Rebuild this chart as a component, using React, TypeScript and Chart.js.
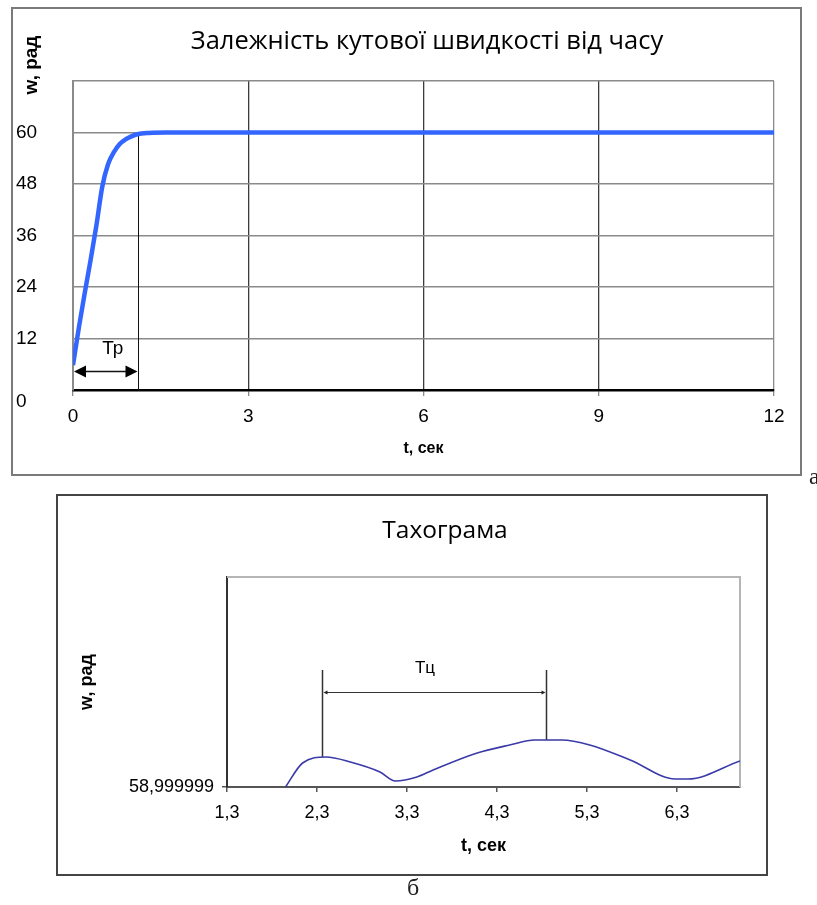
import React, { useEffect, useRef } from 'react';
import { Chart, registerables } from 'chart.js';

Chart.register(...registerables);

// ---------- Chart "а": angular speed vs time ----------
const speedTitle = 'Залежність кутової швидкості від часу';
const speedAxisX = 't, сек';
const speedAxisY = 'w, рад';
const speedTime = [0, 0.1, 0.2, 0.3, 0.4, 0.5, 0.6, 0.7, 0.8, 0.9, 1.0, 1.1, 1.3, 1.6, 2, 3, 4, 5, 6, 7, 8, 9, 10, 11, 12];
const speedValue = [5.8, 14.5, 22.5, 30.2, 38.3, 47.3, 52.6, 55.4, 57.3, 58.4, 59.1, 59.6, 59.9, 60, 60, 60, 60, 60, 60, 60, 60, 60, 60, 60, 60];
const speedTimeTicks = [0, 3, 6, 9, 12];
const speedValueTicks = [0, 12, 24, 36, 48, 60, 72];
const tpLabel = 'Тр';
const tpTime = 1.11;
const tpTopValue = 60;
const tpArrowValue = 4.4;
const tpLabelTime = 0.68;
const tpLabelValue = 8.4;

// ---------- Chart "б": tachogram ----------
const tachoTitle = 'Тахограма';
const tachoAxisX = 't, сек';
const tachoAxisY = 'w, рад';
const tachoTime = [1.95, 2.14, 2.4, 2.67, 3.0, 3.17, 3.41, 3.59, 4.08, 4.44, 4.72, 5.02, 5.33, 5.78, 6.28, 6.42, 7.0];
const tachoValue = [
  58.999999, 58.99999924, 58.9999993, 58.99999925, 58.99999915, 58.99999906, 58.9999991, 58.99999917,
  58.99999934, 58.99999942, 58.99999947, 58.99999947, 58.99999942, 58.99999927, 58.99999908, 58.99999908, 58.99999926,
];
const tachoTimeTicks = [1.3, 2.3, 3.3, 4.3, 5.3, 6.3];
const tachoMin = 58.999999;
const tachoMax = 59.0000011;
const tcLabel = 'Тц';
const tcStart = 2.35;
const tcEnd = 4.84;
const tcTopValue = 59.00000017;
const tcArrowValue = 58.99999995;
const tcLabelTime = 3.5;
const tcLabelValue = 59.00000014;
const tcStartBase = 58.9999993;
const tcEndBase = 58.99999947;

const SANS = '"Liberation Sans", Arial, sans-serif';
const TITLE_FONT = '"Open Sans", "Noto Sans", sans-serif';
const SERIF = '"Liberation Serif", "Times New Roman", serif';

function arrowHead(ctx: CanvasRenderingContext2D, x: number, y: number, dir: number, len: number, half: number) {
  ctx.beginPath();
  ctx.moveTo(x, y);
  ctx.lineTo(x - dir * len, y - half);
  ctx.lineTo(x - dir * len, y + half);
  ctx.closePath();
  ctx.fill();
}

const speedDecor = {
  id: 'speedDecor',
  beforeDatasetsDraw(chart: any) {
    const { ctx, scales } = chart;
    const x = scales.x;
    const y = scales.y;
    const xp = Math.round(x.getPixelForValue(tpTime)) + 0.5;
    ctx.save();
    ctx.strokeStyle = '#111';
    ctx.lineWidth = 1;
    ctx.beginPath();
    ctx.moveTo(xp, y.getPixelForValue(tpTopValue));
    ctx.lineTo(xp, y.getPixelForValue(0));
    ctx.stroke();
    const ay = Math.round(y.getPixelForValue(tpArrowValue)) + 0.5;
    const x0 = x.getPixelForValue(0) + 1;
    const x1 = xp - 1;
    ctx.lineWidth = 1.5;
    ctx.beginPath();
    ctx.moveTo(x0 + 8, ay);
    ctx.lineTo(x1 - 8, ay);
    ctx.stroke();
    ctx.fillStyle = '#000';
    arrowHead(ctx, x0, ay, -1, 12, 6);
    arrowHead(ctx, x1, ay, 1, 12, 6);
    ctx.restore();
  },
  afterDraw(chart: any) {
    const { ctx, scales } = chart;
    const x = scales.x;
    const y = scales.y;
    ctx.save();
    ctx.strokeStyle = '#7a7a7a';
    ctx.lineWidth = 2;
    ctx.strokeRect(12, 8, 789, 467);
    ctx.fillStyle = '#000';
    ctx.font = '25.5px ' + TITLE_FONT;
    ctx.textAlign = 'center';
    ctx.textBaseline = 'alphabetic';
    ctx.fillText(speedTitle, 427, 49);
    ctx.save();
    ctx.translate(37, 65);
    ctx.rotate(-Math.PI / 2);
    ctx.font = 'bold 19px ' + SANS;
    ctx.fillText(speedAxisY, 0, 0);
    ctx.restore();
    ctx.font = '19px ' + SANS;
    ctx.fillText(tpLabel, x.getPixelForValue(tpLabelTime), y.getPixelForValue(tpLabelValue));
    ctx.textAlign = 'left';
    ctx.font = '24px ' + SERIF;
    ctx.fillStyle = '#222';
    ctx.fillText('а', 809, 484);
    ctx.restore();
  },
};

const tachoDecor = {
  id: 'tachoDecor',
  beforeDatasetsDraw(chart: any) {
    const { ctx, scales, chartArea } = chart;
    const x = scales.x;
    const y = scales.y;
    ctx.save();
    ctx.strokeStyle = '#b5b5b5';
    ctx.lineWidth = 2;
    ctx.beginPath();
    ctx.moveTo(chartArea.left, chartArea.top);
    ctx.lineTo(chartArea.right, chartArea.top);
    ctx.lineTo(chartArea.right, chartArea.bottom);
    ctx.stroke();
    const xs = Math.round(x.getPixelForValue(tcStart)) + 0.5;
    const xe = Math.round(x.getPixelForValue(tcEnd)) + 0.5;
    const top = y.getPixelForValue(tcTopValue);
    ctx.strokeStyle = '#333';
    ctx.lineWidth = 1.5;
    ctx.beginPath();
    ctx.moveTo(xs, top);
    ctx.lineTo(xs, y.getPixelForValue(tcStartBase));
    ctx.moveTo(xe, top);
    ctx.lineTo(xe, y.getPixelForValue(tcEndBase));
    ctx.stroke();
    const ay = Math.round(y.getPixelForValue(tcArrowValue)) + 0.5;
    ctx.lineWidth = 1;
    ctx.beginPath();
    ctx.moveTo(xs + 3, ay);
    ctx.lineTo(xe - 3, ay);
    ctx.stroke();
    ctx.fillStyle = '#222';
    arrowHead(ctx, xs + 1, ay, -1, 4, 2);
    arrowHead(ctx, xe - 1, ay, 1, 4, 2);
    ctx.restore();
  },
  afterDraw(chart: any) {
    const { ctx, scales } = chart;
    const x = scales.x;
    const y = scales.y;
    ctx.save();
    ctx.strokeStyle = '#444';
    ctx.lineWidth = 2;
    ctx.strokeRect(57, 5, 710, 380);
    ctx.fillStyle = '#000';
    ctx.font = '24.5px ' + TITLE_FONT;
    ctx.textAlign = 'center';
    ctx.textBaseline = 'alphabetic';
    ctx.fillText(tachoTitle, 445, 48);
    ctx.font = '17px ' + SANS;
    ctx.fillText(tcLabel, x.getPixelForValue(tcLabelTime), y.getPixelForValue(tcLabelValue));
    ctx.textAlign = 'left';
    ctx.font = '24px ' + SERIF;
    ctx.fillStyle = '#222';
    ctx.fillText('б', 407, 405);
    ctx.restore();
  },
};

export default function App() {
  const topRef = useRef<HTMLCanvasElement | null>(null);
  const bottomRef = useRef<HTMLCanvasElement | null>(null);

  useEffect(() => {
    if (!topRef.current || !bottomRef.current) return;

    const top = new Chart(topRef.current, {
      type: 'line',
      data: {
        datasets: [
          {
            data: speedTime.map((t, i) => ({ x: t, y: speedValue[i] })),
            borderColor: '#3366ff',
            borderWidth: 4.5,
            pointRadius: 0,
            cubicInterpolationMode: 'monotone',
            fill: false,
          },
        ],
      },
      options: {
        animation: false,
        responsive: false,
        events: [],
        layout: { padding: { left: 16, top: 81, right: 43, bottom: 10 } },
        plugins: { legend: { display: false }, tooltip: { enabled: false }, title: { display: false } },
        scales: {
          x: {
            type: 'linear',
            min: 0,
            max: 12,
            afterBuildTicks: (s: any) => {
              s.ticks = speedTimeTicks.map((v) => ({ value: v }));
            },
            afterFit: (s: any) => {
              s.height = 90;
            },
            grid: {
              color: (c: any) => (c.tick && c.tick.value === 12 ? '#8a8a8a' : '#3c3c3c'),
              lineWidth: 1.3,
              tickLength: 6,
              tickColor: '#8a8a8a',
            },
            border: { color: '#000', width: 2.5 },
            ticks: {
              color: '#000',
              font: { family: SANS, size: 19 },
              padding: 9,
              maxRotation: 0,
              autoSkip: false,
            },
            title: {
              display: true,
              text: speedAxisX,
              color: '#000',
              font: { family: SANS, size: 16, weight: 'bold' },
              padding: { top: 0, bottom: 22 },
            },
          },
          y: {
            type: 'linear',
            min: 0,
            max: 72,
            afterBuildTicks: (s: any) => {
              s.ticks = speedValueTicks.map((v) => ({ value: v }));
            },
            afterFit: (s: any) => {
              s.width = 57;
            },
            grid: { color: '#8a8a8a', lineWidth: 1.5, drawTicks: false },
            border: { color: '#8a8a8a', width: 2 },
            ticks: {
              color: '#000',
              font: { family: SANS, size: 19 },
              crossAlign: 'far',
              padding: 0,
              autoSkip: false,
              callback: (v: any) => (v === 72 ? '' : v === 0 ? ['', '0'] : String(v)),
            },
          },
        },
      } as any,
      plugins: [speedDecor],
    });

    const bottom = new Chart(bottomRef.current, {
      type: 'line',
      data: {
        datasets: [
          {
            data: tachoTime.map((t, i) => ({ x: t, y: tachoValue[i] })),
            borderColor: '#3a3aa8',
            borderWidth: 1.6,
            pointRadius: 0,
            cubicInterpolationMode: 'monotone',
            fill: false,
          },
        ],
      },
      options: {
        animation: false,
        responsive: false,
        events: [],
        layout: { padding: { left: 60, top: 87, right: 77, bottom: 45 } },
        plugins: { legend: { display: false }, tooltip: { enabled: false }, title: { display: false } },
        scales: {
          x: {
            type: 'linear',
            min: 1.3,
            max: 7.0,
            afterBuildTicks: (s: any) => {
              s.ticks = tachoTimeTicks.map((v) => ({ value: v }));
            },
            afterFit: (s: any) => {
              s.height = 73;
            },
            grid: { drawOnChartArea: false, tickLength: 5, tickColor: '#555', lineWidth: 1.5 },
            border: { color: '#555', width: 2 },
            ticks: {
              color: '#000',
              font: { family: SANS, size: 18 },
              padding: 10,
              maxRotation: 0,
              autoSkip: false,
              callback: (v: any) => Number(v).toFixed(1).replace('.', ','),
            },
            title: {
              display: true,
              text: tachoAxisX,
              color: '#000',
              font: { family: SANS, size: 18, weight: 'bold' },
              padding: { top: 0, bottom: 3 },
            },
          },
          y: {
            type: 'linear',
            min: tachoMin,
            max: tachoMax,
            afterBuildTicks: (s: any) => {
              s.ticks = [{ value: tachoMin }];
            },
            afterFit: (s: any) => {
              s.width = 167;
            },
            grid: { drawOnChartArea: false, tickLength: 5, tickColor: '#555', lineWidth: 1.5 },
            border: { color: '#333', width: 2 },
            ticks: {
              color: '#000',
              font: { family: SANS, size: 18 },
              padding: 8,
              autoSkip: false,
              callback: (v: any) => String(v).replace('.', ','),
            },
            title: {
              display: true,
              text: tachoAxisY,
              color: '#000',
              font: { family: SANS, size: 18, weight: 'bold' },
              padding: { top: 16, bottom: 0 },
            },
          },
        },
      } as any,
      plugins: [tachoDecor],
    });

    return () => {
      top.destroy();
      bottom.destroy();
    };
  }, []);

  return (
    <div style={{ position: 'absolute', left: 0, top: 0, width: 817, height: 905, background: '#fff', overflow: 'hidden' }}>
      <canvas ref={topRef} width={817} height={490} style={{ position: 'absolute', left: 0, top: 0, display: 'block' }} />
      <canvas ref={bottomRef} width={817} height={415} style={{ position: 'absolute', left: 0, top: 490, display: 'block' }} />
    </div>
  );
}
